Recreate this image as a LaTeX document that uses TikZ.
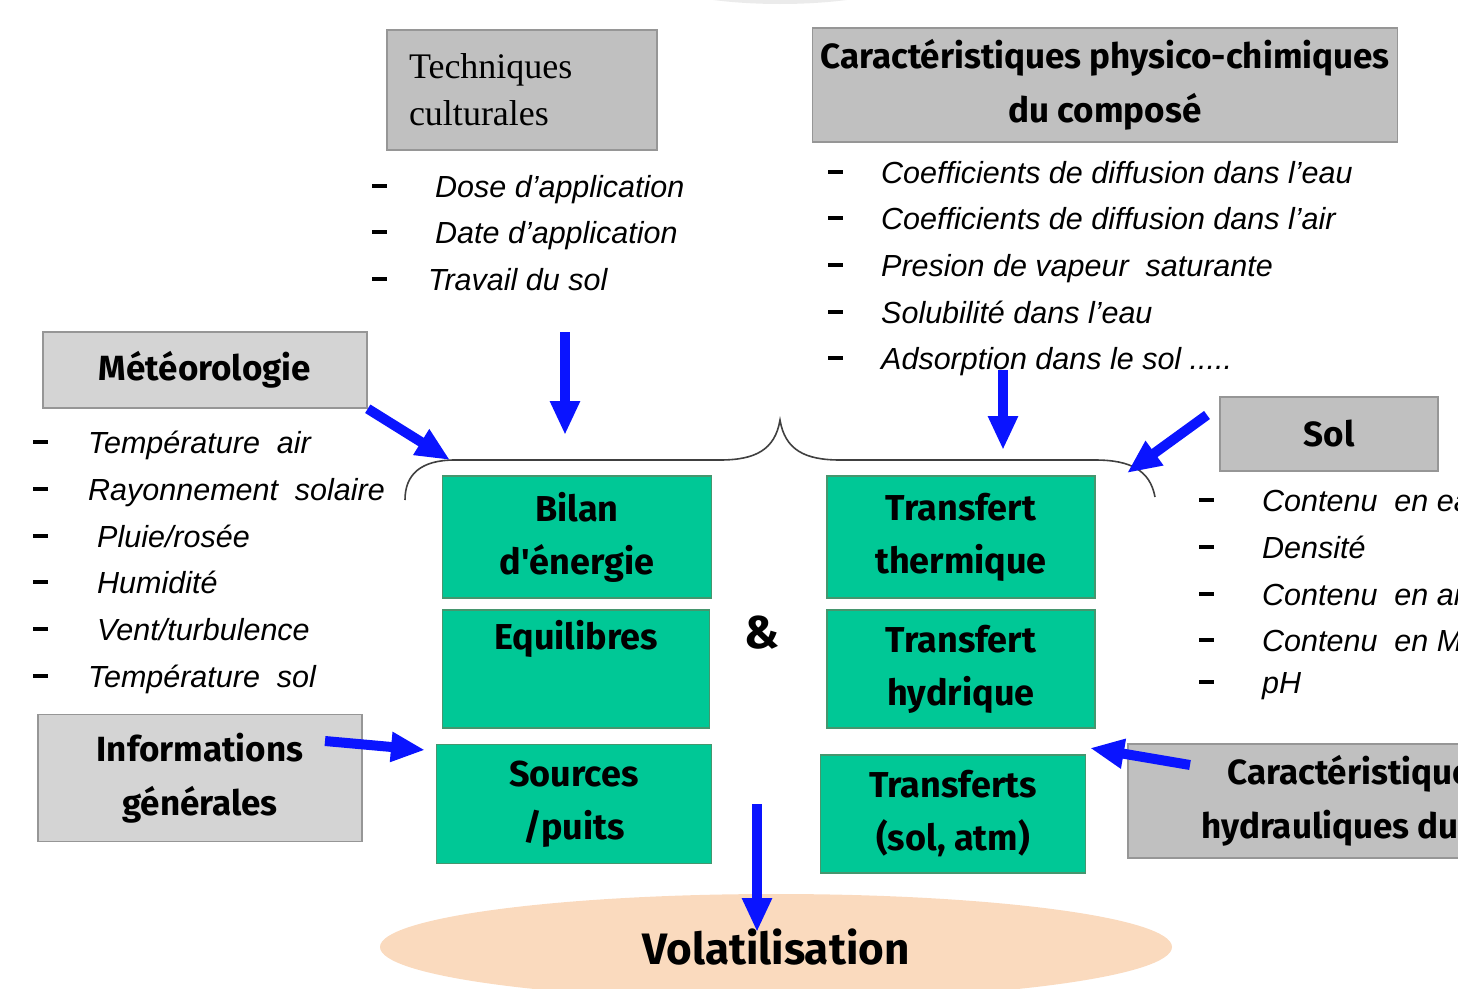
\documentclass[tikz,border=0pt]{standalone}
\usepackage{fontspec}
\setmainfont{Liberation Sans}
\newfontfamily\headfont{Fira Sans}
\newfontfamily\serfont{Liberation Serif}
\usetikzlibrary{arrows.meta,shapes.geometric}

\definecolor{boxgrey}{RGB}{192,192,192}
\definecolor{lightgrey}{RGB}{212,212,212}
\definecolor{greyline}{RGB}{150,150,150}
\definecolor{boxgreen}{RGB}{0,200,150}
\definecolor{greenline}{RGB}{70,150,110}
\definecolor{arrowblue}{RGB}{10,20,255}
\definecolor{peach}{RGB}{250,218,190}

\newcommand{\tiret}[1]{\makebox[#1][l]{\raisebox{9pt}{\rule{15pt}{3.6pt}}}}

\begin{document}
\begin{tikzpicture}[x=1pt,y=-1pt,
    greybox/.style={draw=greyline, line width=1.5pt, fill=boxgrey, inner sep=0pt, align=center,
        font=\headfont\bfseries\fontsize{35}{54}\selectfont},
    lightbox/.style={greybox, fill=lightgrey},
    greenbox/.style={draw=greenline, line width=1.5pt, fill=boxgreen, inner sep=0pt, align=center,
        font=\headfont\bfseries\fontsize{36}{53}\selectfont},
    item/.style={anchor=base west, inner sep=0pt, font=\fontsize{30.5}{36}\selectfont},
    bigarrow/.style={draw=arrowblue, line width=10pt, -{Triangle[width=28pt,length=34pt]}},
    brace/.style={draw=black!75, line width=1.6pt}]

    \useasboundingbox (0,0) rectangle (1458,988);
    \clip (0,0) rectangle (1458,988);

    % shadow of something above
    \fill[black!8] (780,-40) ellipse [x radius=160, y radius=44];

    % grey boxes
    \node[greybox, minimum width=270pt, minimum height=120pt, text width=226pt, inner xsep=22pt, align=left,
        font=\serfont\fontsize{36}{47}\selectfont] (tech) at (522,90) {Techniques\\culturales};
    \node[greybox, minimum width=585pt, minimum height=114pt] (phys) at (1105,85) {Caractéristiques physico-chimiques\\du composé};
    \node[lightbox, minimum width=324pt, minimum height=76pt] (meteo) at (205,370) {Météorologie};
    \node[greybox, minimum width=218pt, minimum height=74pt] (sol) at (1329,434) {Sol};
    \node[lightbox, minimum width=324pt, minimum height=127pt] (info) at (200,778) {Informations\\générales};
    \node[greybox, minimum width=460pt, minimum height=114pt] (hydro) at (1358,801) {Caractéristiques\\hydrauliques du sol};

    % lists
    \node[item] (tech1) at (372,197) {\tiret{63pt}\textit{Dose d'application}};
    \node[item] (tech2) at (372,243) {\tiret{63pt}\textit{Date d'application}};
    \node[item] (tech3) at (372,290) {\tiret{56pt}\textit{Travail du sol}};

    \node[item] (phys1) at (828,183) {\tiret{53pt}\textit{Coefficients de diffusion dans l'eau}};
    \node[item] (phys2) at (828,229) {\tiret{53pt}\textit{Coefficients de diffusion dans l'air}};
    \node[item] (phys3) at (828,276) {\tiret{53pt}\textit{Presion de vapeur\ \ saturante}};
    \node[item] (phys4) at (828,323) {\tiret{53pt}\textit{Solubilité dans l'eau}};
    \node[item] (phys5) at (828,369) {\tiret{53pt}\textit{Adsorption dans le sol .....}};

    \node[item] (met1) at (33,453) {\tiret{55pt}\textit{Température\ \ air}};
    \node[item] (met2) at (33,500) {\tiret{55pt}\textit{Rayonnement\ \ solaire}};
    \node[item] (met3) at (33,547) {\tiret{64pt}\textit{Pluie/rosée}};
    \node[item] (met4) at (33,593) {\tiret{64pt}\textit{Humidité}};
    \node[item] (met5) at (33,640) {\tiret{64pt}\textit{Vent/turbulence}};
    \node[item] (met6) at (33,687) {\tiret{55pt}\textit{Température\ \ sol}};

    \node[item] (sol1) at (1199,511) {\tiret{63pt}\textit{Contenu\ \ en eau}};
    \node[item] (sol2) at (1199,558) {\tiret{63pt}\textit{Densité}};
    \node[item] (sol3) at (1199,605) {\tiret{63pt}\textit{Contenu\ \ en argile}};
    \node[item] (sol4) at (1199,651) {\tiret{63pt}\textit{Contenu\ \ en MO}};
    \node[item] (sol5) at (1199,693) {\tiret{63pt}\textit{pH}};

    % green boxes
    \node[greenbox, minimum width=269pt, minimum height=122pt] (bilan) at (577,537) {Bilan\\d'énergie};
    \node[greenbox, minimum width=267pt, minimum height=118pt] (equil) at (576,669) {Equilibres\\\strut};
    \node[greenbox, minimum width=275pt, minimum height=119pt] (sources) at (574,804) {Sources\\/puits};
    \node[greenbox, minimum width=268pt, minimum height=122pt] (therm) at (961,537) {Transfert\\thermique};
    \node[greenbox, minimum width=268pt, minimum height=118pt] (hydri) at (961,669) {Transfert\\hydrique};
    \node[greenbox, minimum width=265pt, minimum height=118pt] (transf) at (953,814) {Transferts\\(sol, atm)};
    \node[font=\headfont\bfseries\fontsize{46}{50}\selectfont] (et) at (762,633) {\&};

    % volatilisation
    \node[ellipse, fill=peach, minimum width=792pt, minimum height=106pt, inner sep=0pt,
        font=\headfont\bfseries\fontsize{44}{50}\selectfont] (volat) at (776,947) {Volatilisation};

    % brace
    \draw[brace] (405,500) .. controls (405,475) and (420,460) .. (455,460) -- (720,460)
        .. controls (755,460) and (775,450) .. (780,420)
        .. controls (785,450) and (805,460) .. (840,460) -- (1095,460)
        .. controls (1130,460) and (1150,470) .. (1155,497);

    % arrows
    \coordinate (techtail) at (565,332);
    \coordinate (techtip) at (565,435);
    \coordinate (physail) at (1003,370);
    \coordinate (phystip) at (1003,450);
    \coordinate (meteotip) at (450,460);
    \coordinate (soltail) at (1207,415);
    \coordinate (soltip) at (1127,473);
    \coordinate (infotail) at (325,741);
    \coordinate (infotip) at (425,750);
    \coordinate (hydrotail) at (1190,765);
    \coordinate (hydrotip) at (1090,748);
    \coordinate (voltail) at (757,804);
    \coordinate (voltip) at (757,932);

    \draw[bigarrow] (techtail) -- (techtip);
    \draw[bigarrow] (physail) -- (phystip);
    \draw[bigarrow] (meteo.south east) -- (meteotip);
    \draw[bigarrow] (soltail) -- (soltip);
    \draw[bigarrow] (infotail) -- (infotip);
    \draw[bigarrow] (hydrotail) -- (hydrotip);
    \draw[bigarrow] (voltail) -- (voltip);

\end{tikzpicture}
\end{document}
